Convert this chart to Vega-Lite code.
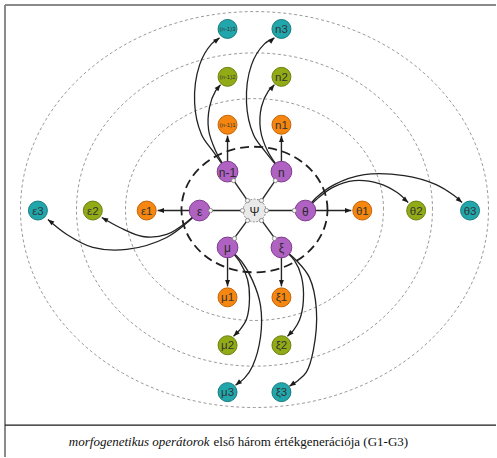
{
  "$schema": "https://vega.github.io/schema/vega-lite/v6.json",
  "width": 497,
  "height": 458,
  "padding": 0,
  "autosize": {"type": "fit", "contains": "padding"},
  "background": "white",
  "config": {"view": {"stroke": null}},
  "datasets": {
    "rings": [{"ring": "G", "x": 0, "y": 1}],
    "frame": [
      {"part": "top", "x": -250, "y": 206, "x2": 242, "y2": 206},
      {"part": "left", "x": -250, "y": 206, "x2": -250, "y2": -247}
    ],
    "sep": [{"part": "caption line", "x": -250, "y": -215, "x2": 242, "y2": -215}],
    "links": [
      {"from": "Ψ", "to": "n-1", "x": 0, "y": 0, "x2": -27, "y2": 39},
      {"from": "Ψ", "to": "n", "x": 0, "y": 0, "x2": 27, "y2": 39},
      {"from": "Ψ", "to": "ε", "x": 0, "y": 0, "x2": -55, "y2": 0},
      {"from": "Ψ", "to": "θ", "x": 0, "y": 0, "x2": 51, "y2": 0},
      {"from": "Ψ", "to": "μ", "x": 0, "y": 0, "x2": -27, "y2": -37},
      {"from": "Ψ", "to": "ξ", "x": 0, "y": 0, "x2": 27, "y2": -37},
      {"from": "n-1", "to": "(n-1)1", "x": -27, "y": 39, "x2": -27, "y2": 75},
      {"from": "n", "to": "n1", "x": 27, "y": 39, "x2": 27, "y2": 75},
      {"from": "ε", "to": "ε1", "x": -55, "y": 0, "x2": -97, "y2": 0},
      {"from": "θ", "to": "θ1", "x": 51, "y": 0, "x2": 97, "y2": 0},
      {"from": "μ", "to": "μ1", "x": -27, "y": -37, "x2": -27, "y2": -76},
      {"from": "ξ", "to": "ξ1", "x": 27, "y": -37, "x2": 27, "y2": -76}
    ],
    "curves": [
      {"edge": "n-1>2", "i": 0, "x": -27, "y": 39}, {"edge": "n-1>2", "i": 1, "x": -39, "y": 60}, {"edge": "n-1>2", "i": 2, "x": -46, "y": 81}, {"edge": "n-1>2", "i": 3, "x": -45, "y": 104}, {"edge": "n-1>2", "i": 4, "x": -39, "y": 120}, {"edge": "n-1>2", "i": 5, "x": -34, "y": 126},
      {"edge": "n-1>3", "i": 0, "x": -27, "y": 39}, {"edge": "n-1>3", "i": 1, "x": -42, "y": 60}, {"edge": "n-1>3", "i": 2, "x": -53, "y": 76}, {"edge": "n-1>3", "i": 3, "x": -60, "y": 108}, {"edge": "n-1>3", "i": 4, "x": -55, "y": 146}, {"edge": "n-1>3", "i": 5, "x": -43, "y": 167}, {"edge": "n-1>3", "i": 6, "x": -35, "y": 173},
      {"edge": "n>2", "i": 0, "x": 27, "y": 39}, {"edge": "n>2", "i": 1, "x": 13, "y": 60}, {"edge": "n>2", "i": 2, "x": 6, "y": 81}, {"edge": "n>2", "i": 3, "x": 7, "y": 104}, {"edge": "n>2", "i": 4, "x": 14, "y": 120}, {"edge": "n>2", "i": 5, "x": 20, "y": 126},
      {"edge": "n>3", "i": 0, "x": 27, "y": 39}, {"edge": "n>3", "i": 1, "x": 10, "y": 60}, {"edge": "n>3", "i": 2, "x": -1, "y": 76}, {"edge": "n>3", "i": 3, "x": -8, "y": 108}, {"edge": "n>3", "i": 4, "x": -3, "y": 146}, {"edge": "n>3", "i": 5, "x": 10, "y": 167}, {"edge": "n>3", "i": 6, "x": 20, "y": 173},
      {"edge": "ε>2", "i": 0, "x": -55, "y": 0}, {"edge": "ε>2", "i": 1, "x": -66, "y": -10}, {"edge": "ε>2", "i": 2, "x": -88, "y": -24}, {"edge": "ε>2", "i": 3, "x": -112, "y": -26}, {"edge": "ε>2", "i": 4, "x": -135, "y": -17}, {"edge": "ε>2", "i": 5, "x": -153, "y": -7},
      {"edge": "ε>3", "i": 0, "x": -55, "y": 0}, {"edge": "ε>3", "i": 1, "x": -65, "y": -10}, {"edge": "ε>3", "i": 2, "x": -88, "y": -27}, {"edge": "ε>3", "i": 3, "x": -128, "y": -39}, {"edge": "ε>3", "i": 4, "x": -162, "y": -37}, {"edge": "ε>3", "i": 5, "x": -188, "y": -24}, {"edge": "ε>3", "i": 6, "x": -207, "y": -9},
      {"edge": "θ>2", "i": 0, "x": 51, "y": 0}, {"edge": "θ>2", "i": 1, "x": 62, "y": 11}, {"edge": "θ>2", "i": 2, "x": 78, "y": 23}, {"edge": "θ>2", "i": 3, "x": 100, "y": 30}, {"edge": "θ>2", "i": 4, "x": 125, "y": 27}, {"edge": "θ>2", "i": 5, "x": 143, "y": 18}, {"edge": "θ>2", "i": 6, "x": 154, "y": 8},
      {"edge": "θ>3", "i": 0, "x": 51, "y": 0}, {"edge": "θ>3", "i": 1, "x": 62, "y": 13}, {"edge": "θ>3", "i": 2, "x": 80, "y": 26}, {"edge": "θ>3", "i": 3, "x": 110, "y": 36}, {"edge": "θ>3", "i": 4, "x": 150, "y": 35}, {"edge": "θ>3", "i": 5, "x": 182, "y": 26}, {"edge": "θ>3", "i": 6, "x": 200, "y": 15}, {"edge": "θ>3", "i": 7, "x": 208, "y": 8},
      {"edge": "μ>2", "i": 0, "x": -27, "y": -37}, {"edge": "μ>2", "i": 1, "x": -15, "y": -51}, {"edge": "μ>2", "i": 2, "x": -7, "y": -69}, {"edge": "μ>2", "i": 3, "x": -5, "y": -88}, {"edge": "μ>2", "i": 4, "x": -8, "y": -109}, {"edge": "μ>2", "i": 5, "x": -15, "y": -120}, {"edge": "μ>2", "i": 6, "x": -21, "y": -126},
      {"edge": "μ>3", "i": 0, "x": -27, "y": -37}, {"edge": "μ>3", "i": 1, "x": -13, "y": -51}, {"edge": "μ>3", "i": 2, "x": -2, "y": -70}, {"edge": "μ>3", "i": 3, "x": 6, "y": -95}, {"edge": "μ>3", "i": 4, "x": 6, "y": -127}, {"edge": "μ>3", "i": 5, "x": -2, "y": -156}, {"edge": "μ>3", "i": 6, "x": -10, "y": -168}, {"edge": "μ>3", "i": 7, "x": -19, "y": -175},
      {"edge": "ξ>2", "i": 0, "x": 27, "y": -37}, {"edge": "ξ>2", "i": 1, "x": 40, "y": -50}, {"edge": "ξ>2", "i": 2, "x": 47, "y": -66}, {"edge": "ξ>2", "i": 3, "x": 49, "y": -90}, {"edge": "ξ>2", "i": 4, "x": 45, "y": -110}, {"edge": "ξ>2", "i": 5, "x": 39, "y": -120}, {"edge": "ξ>2", "i": 6, "x": 33, "y": -126},
      {"edge": "ξ>3", "i": 0, "x": 27, "y": -37}, {"edge": "ξ>3", "i": 1, "x": 42, "y": -50}, {"edge": "ξ>3", "i": 2, "x": 55, "y": -67}, {"edge": "ξ>3", "i": 3, "x": 62, "y": -99}, {"edge": "ξ>3", "i": 4, "x": 59, "y": -140}, {"edge": "ξ>3", "i": 5, "x": 52, "y": -162}, {"edge": "ξ>3", "i": 6, "x": 44, "y": -170}, {"edge": "ξ>3", "i": 7, "x": 35, "y": -176}
    ],
    "arrows": [
      {"to": "(n-1)1", "x": -27, "y": 75, "dir": 0},
      {"to": "n1", "x": 27, "y": 75, "dir": 0},
      {"to": "ε1", "x": -97, "y": 0, "dir": 270},
      {"to": "θ1", "x": 97, "y": 0, "dir": 90},
      {"to": "μ1", "x": -27, "y": -76, "dir": 180},
      {"to": "ξ1", "x": 27, "y": -76, "dir": 180},
      {"to": "(n-1)2", "x": -34, "y": 126, "dir": 40},
      {"to": "(n-1)3", "x": -35, "y": 173, "dir": 53},
      {"to": "n2", "x": 20, "y": 126, "dir": 40},
      {"to": "n3", "x": 20, "y": 173, "dir": 50},
      {"to": "ε2", "x": -153, "y": -7, "dir": 299},
      {"to": "ε3", "x": -207, "y": -9, "dir": 308},
      {"to": "θ2", "x": 154, "y": 8, "dir": 132},
      {"to": "θ3", "x": 208, "y": 8, "dir": 131},
      {"to": "μ2", "x": -21, "y": -126, "dir": 225},
      {"to": "μ3", "x": -19, "y": -175, "dir": 232},
      {"to": "ξ2", "x": 33, "y": -126, "dir": 225},
      {"to": "ξ3", "x": 35, "y": -176, "dir": 236}
    ],
    "ports": [
      {"x": -7, "y": 10}, {"x": 7, "y": 10}, {"x": -12, "y": 0}, {"x": 12, "y": 0}, {"x": -7, "y": -10}, {"x": 7, "y": -10},
      {"x": -21, "y": 30}, {"x": 21, "y": 30}, {"x": -44, "y": 0}, {"x": 40, "y": 0}, {"x": -20, "y": -28}, {"x": 20, "y": -28}
    ],
    "nodes": [
      {"label": "Ψ", "gen": "core", "x": 0, "y": 0},
      {"label": "n-1", "gen": "op", "x": -27, "y": 39},
      {"label": "n", "gen": "op", "x": 27, "y": 39},
      {"label": "ε", "gen": "op", "x": -55, "y": 0},
      {"label": "θ", "gen": "op", "x": 51, "y": 0},
      {"label": "μ", "gen": "op", "x": -27, "y": -37},
      {"label": "ξ", "gen": "op", "x": 27, "y": -37},
      {"label": "(n-1)1", "gen": "G1", "x": -27, "y": 86},
      {"label": "n1", "gen": "G1", "x": 27, "y": 86},
      {"label": "ε1", "gen": "G1", "x": -108, "y": 0},
      {"label": "θ1", "gen": "G1", "x": 108, "y": 0},
      {"label": "μ1", "gen": "G1", "x": -27, "y": -87},
      {"label": "ξ1", "gen": "G1", "x": 27, "y": -87},
      {"label": "(n-1)2", "gen": "G2", "x": -27, "y": 134},
      {"label": "n2", "gen": "G2", "x": 27, "y": 134},
      {"label": "ε2", "gen": "G2", "x": -162, "y": 0},
      {"label": "θ2", "gen": "G2", "x": 162, "y": 0},
      {"label": "μ2", "gen": "G2", "x": -27, "y": -135},
      {"label": "ξ2", "gen": "G2", "x": 27, "y": -135},
      {"label": "(n-1)3", "gen": "G3", "x": -27, "y": 182},
      {"label": "n3", "gen": "G3", "x": 27, "y": 182},
      {"label": "ε3", "gen": "G3", "x": -217, "y": 0},
      {"label": "θ3", "gen": "G3", "x": 216, "y": 0},
      {"label": "μ3", "gen": "G3", "x": -27, "y": -182},
      {"label": "ξ3", "gen": "G3", "x": 27, "y": -182}
    ],
    "caption1": [{"x": -45, "y": -232, "text": "morfogenetikus operátorok"}],
    "caption2": [{"x": -41, "y": -232, "text": "első három értékgenerációja (G1-G3)"}]
  },
  "encoding": {
    "x": {"field": "x", "type": "quantitative", "scale": {"domain": [-255, 242], "nice": false, "zero": false}, "axis": null},
    "y": {"field": "y", "type": "quantitative", "scale": {"domain": [-247, 211], "nice": false, "zero": false}, "axis": null}
  },
  "layer": [
    {
      "data": {"name": "rings"},
      "mark": {"type": "point", "shape": "M 1 0 C 1 -0.475 0.552 -0.86 0 -0.86 C -0.552 -0.86 -1 -0.475 -1 0 C -1 0.475 -0.552 0.86 0 0.86 C 0.552 0.86 1 0.475 1 0 Z", "size": 66564, "filled": false, "fill": null, "stroke": "#8f8f8f", "strokeWidth": 0.9, "strokeDash": [3, 2.5], "opacity": 1}
    },
    {
      "data": {"name": "rings"},
      "mark": {"type": "point", "shape": "M 1 0 C 1 -0.484 0.552 -0.88 0 -0.88 C -0.552 -0.88 -1 -0.484 -1 0 C -1 0.484 -0.552 0.88 0 0.88 C 0.552 0.88 1 0.484 1 0 Z", "size": 126736, "filled": false, "fill": null, "stroke": "#8f8f8f", "strokeWidth": 0.9, "strokeDash": [3, 2.5], "opacity": 1}
    },
    {
      "data": {"name": "rings"},
      "mark": {"type": "point", "shape": "M 1 0 C 1 -0.467 0.552 -0.846 0 -0.846 C -0.552 -0.846 -1 -0.467 -1 0 C -1 0.467 -0.552 0.846 0 0.846 C 0.552 0.846 1 0.467 1 0 Z", "size": 219024, "filled": false, "fill": null, "stroke": "#8f8f8f", "strokeWidth": 0.9, "strokeDash": [3, 2.5], "opacity": 1}
    },
    {
      "data": {"name": "frame"},
      "mark": {"type": "rule", "color": "#8a8a8a", "strokeWidth": 2},
      "encoding": {"x2": {"field": "x2"}, "y2": {"field": "y2"}}
    },
    {
      "data": {"name": "sep"},
      "mark": {"type": "rule", "color": "#1a1a1a", "strokeWidth": 1.2},
      "encoding": {"x2": {"field": "x2"}, "y2": {"field": "y2"}}
    },
    {
      "data": {"name": "links"},
      "mark": {"type": "rule", "color": "#262626", "strokeWidth": 1.4},
      "encoding": {"x2": {"field": "x2"}, "y2": {"field": "y2"}}
    },
    {
      "data": {"name": "curves"},
      "mark": {"type": "line", "interpolate": "catmull-rom", "color": "#222222", "strokeWidth": 1.3},
      "encoding": {"detail": {"field": "edge"}, "order": {"field": "i", "type": "quantitative"}}
    },
    {
      "data": {"name": "arrows"},
      "mark": {"type": "point", "shape": "M 0 0 L -0.7 1.8 L 0.7 1.8 Z", "size": 49, "filled": true, "color": "#1a1a1a", "opacity": 1, "strokeWidth": 0},
      "encoding": {"angle": {"field": "dir", "type": "quantitative", "scale": null}}
    },
    {
      "data": {"name": "rings"},
      "mark": {"type": "point", "shape": "M 1 0 C 1 -0.475 0.552 -0.86 0 -0.86 C -0.552 -0.86 -1 -0.475 -1 0 C -1 0.475 -0.552 0.86 0 0.86 C 0.552 0.86 1 0.475 1 0 Z", "size": 21316, "filled": false, "fill": null, "stroke": "#1f1f1f", "strokeWidth": 1.8, "strokeDash": [9, 5], "opacity": 1}
    },
    {
      "data": {"name": "nodes"},
      "transform": [{"filter": "datum.gen == 'core'"}],
      "mark": {"type": "point", "shape": "circle", "size": 520, "filled": true, "fill": "#e9e9e9", "stroke": "#8c8c8c", "strokeWidth": 1, "strokeDash": [2, 1.5], "opacity": 1}
    },
    {
      "data": {"name": "nodes"},
      "transform": [{"filter": "datum.gen == 'op'"}],
      "mark": {"type": "point", "shape": "circle", "size": 430, "filled": true, "fill": "#b062c3", "stroke": "#7d3a8d", "strokeWidth": 1, "opacity": 1}
    },
    {
      "data": {"name": "nodes"},
      "transform": [{"filter": "datum.gen != 'op' && datum.gen != 'core'"}],
      "mark": {"type": "point", "shape": "circle", "size": 360, "filled": true, "strokeWidth": 1, "opacity": 1},
      "encoding": {
        "fill": {"field": "gen", "type": "nominal", "scale": {"domain": ["G1", "G2", "G3"], "range": ["#f5860f", "#91ab17", "#21a7ab"]}, "legend": null},
        "stroke": {"field": "gen", "type": "nominal", "scale": {"domain": ["G1", "G2", "G3"], "range": ["#c4650a", "#6c8010", "#177b7e"]}, "legend": null}
      }
    },
    {
      "data": {"name": "ports"},
      "mark": {"type": "point", "shape": "circle", "size": 18, "filled": true, "fill": "#f4f4f4", "stroke": "#7a7a7a", "strokeWidth": 0.8, "opacity": 1}
    },
    {
      "data": {"name": "nodes"},
      "transform": [{"filter": "datum.gen == 'op' || datum.gen == 'core'"}],
      "mark": {"type": "text", "font": "Liberation Sans", "fontSize": 12, "color": "#2a2a2a", "baseline": "middle", "align": "center", "dy": 1},
      "encoding": {"text": {"field": "label"}}
    },
    {
      "data": {"name": "nodes"},
      "transform": [{"filter": "datum.gen != 'op' && datum.gen != 'core' && indexof(datum.label, '(') != 0"}],
      "mark": {"type": "text", "font": "Liberation Sans", "fontSize": 11.5, "color": "#333333", "baseline": "middle", "align": "center", "dy": 1},
      "encoding": {"text": {"field": "label"}}
    },
    {
      "data": {"name": "nodes"},
      "transform": [{"filter": "indexof(datum.label, '(') == 0"}],
      "mark": {"type": "text", "font": "Liberation Sans", "fontSize": 6, "color": "#333333", "baseline": "middle", "align": "center"},
      "encoding": {"text": {"field": "label"}}
    },
    {
      "data": {"name": "caption1"},
      "mark": {"type": "text", "font": "Liberation Serif", "fontSize": 13, "fontStyle": "italic", "color": "#111111", "align": "right", "baseline": "middle"},
      "encoding": {"text": {"field": "text"}}
    },
    {
      "data": {"name": "caption2"},
      "mark": {"type": "text", "font": "Liberation Serif", "fontSize": 13, "color": "#111111", "align": "left", "baseline": "middle"},
      "encoding": {"text": {"field": "text"}}
    }
  ]
}
